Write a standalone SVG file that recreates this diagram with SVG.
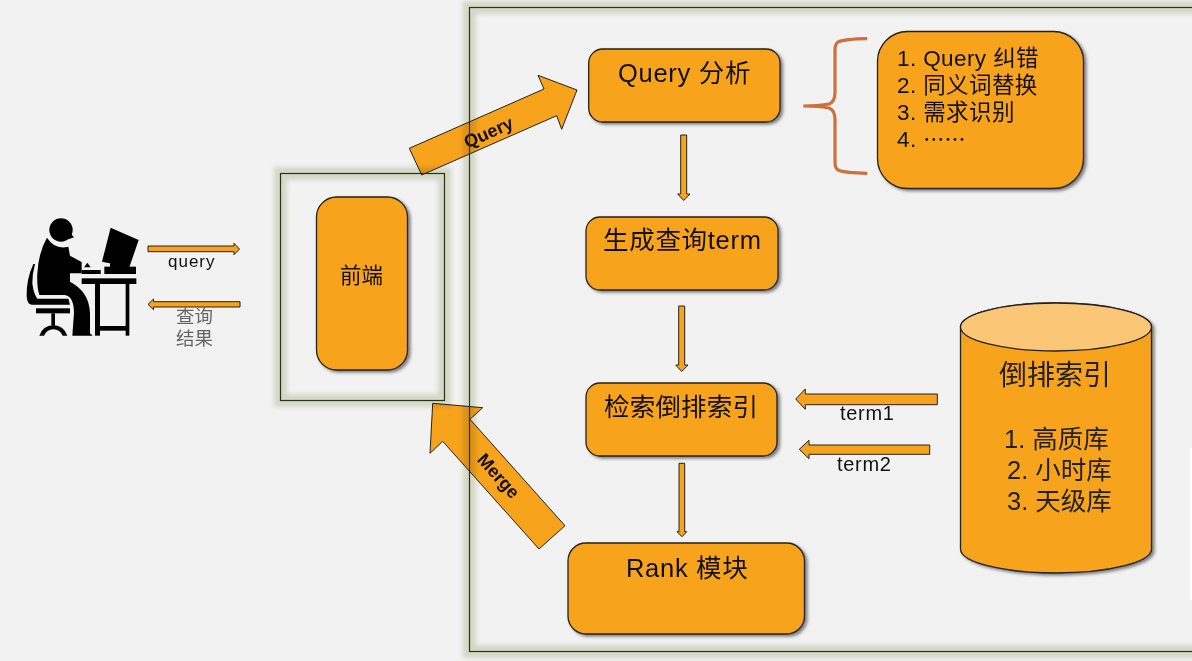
<svg xmlns="http://www.w3.org/2000/svg" width="1192" height="661" viewBox="0 0 1192 661">
<defs>
<filter id="sh" x="-20%" y="-20%" width="140%" height="140%"><feDropShadow dx="2.5" dy="2" stdDeviation="1.8" flood-color="#333" flood-opacity=".6"/></filter>
<filter id="gl" x="-10%" y="-10%" width="120%" height="120%"><feGaussianBlur stdDeviation="2.2"/></filter>
</defs>
<style>
text{font-family:"Liberation Sans","Noto Sans CJK SC",sans-serif;fill:#111}
.n{fill:#f8a31c;stroke:#222;stroke-width:1.3}
.a{fill:#f8a31c;stroke:#222;stroke-width:1}
.glow{fill:none;stroke:#e0e4d0;stroke-width:13;filter:url(#gl);mix-blend-mode:multiply}
.fr{fill:none;stroke:#2b2f24;stroke-width:1.2}
.m{font-size:25.5px;letter-spacing:.7px}
.l{font-size:22.5px;letter-spacing:.4px}
.s{font-size:17px;letter-spacing:1px}
.b{font-size:18px;font-weight:bold}
.t{font-size:20px;letter-spacing:.7px}
</style>
<rect width="1192" height="661" fill="#f2f2f2"/>
<rect x="1190" y="448" width="2" height="152" fill="#fff"/>

<g id="user" transform="translate(0 160) scale(.33333)" fill="#000">
<circle cx="183" cy="210" r="35"/>
<path d="M205 212L222 232L205 238Z"/>
<path d="M141 233Q165 270 205 260L210 287L245 306L245 340L210 340L210 365Q268 395 270 460L270 520L278 527L217 527L222 460Q222 410 195 405L118 405Q110 380 112 340Q116 275 141 233Z"/>
<path d="M100 312Q78 360 80 410Q82 433 95 434L210 434L205 416L112 416Q100 400 97 370Q97 340 105 312Z"/>
<rect x="108" y="445" width="102" height="15"/>
<rect x="154" y="460" width="11" height="36"/>
<path d="M118 527Q128 497 160 495Q192 497 202 527L188 527Q180 509 160 508Q140 509 132 527Z"/>
<rect x="245" y="355" width="164" height="17"/>
<rect x="285" y="372" width="15" height="155"/>
<rect x="377" y="372" width="11" height="155"/>
<rect x="298" y="498" width="82" height="14"/>
<rect x="245" y="330" width="57" height="12"/>
<path d="M252 322L272 322L262 308Z"/>
<path d="M332 203L416 240L388 322L306 305Z"/>
<rect x="330" y="305" width="55" height="18"/>
<rect x="313" y="320" width="95" height="22"/>
</g>

<g id="connectors">
<path class="a" d="M148 246H234V243.3L239.5 249L234 254.7V251.7H148Z"/>
<path class="a" d="M240 301.7H153.5V299L148 304.4L153.5 309.7V307H240Z"/>
<path class="a" d="M409.3 148.3L421.7 175L556.7 115.7L561.7 129.3L577 90L538 75.3L544 89Z"/>
<path class="a" d="M432.7 403.3L482.7 407.7L470 419.3L565 525.7L539 549L442.7 441.3L430 453.3Z"/>
<path class="a" d="M680.7 135H686.7V194H690L683.7 200.5L677.7 194H680.7Z"/>
<path class="a" d="M678.7 306H684.7V365H688L681.7 371.5L675.7 365H678.7Z"/>
<path class="a" d="M679 463.3H684.7V531.7H686.7L682 536.7L677 531.7H679Z"/>
<path class="a" d="M937.3 394V404.7H805.3V409.3L795.7 399L805.3 389V394Z"/>
<path class="a" d="M929.7 445V454.3H809V458.7L799.3 449.3L809 440.3V445Z"/>
<path d="M867.3 38.7Q845 39 838 42Q835 44 835 50V92Q835 102 829 104Q818 106 803.3 106Q818 106 829 108Q835 110 835 120V162Q835 168 838 170Q845 173 867.3 173.3" fill="none" stroke="#cf6f3a" stroke-width="3.2"/>
<text class="b" transform="translate(491 138) rotate(-24)" text-anchor="middle">Query</text>
<text class="b" transform="translate(494 480) rotate(48)" text-anchor="middle">Merge</text>
<text class="s" x="168" y="267">query</text>
<text x="176" y="323" style="font-size:18.5px;fill:#666">查询</text>
<text x="176" y="345" style="font-size:18.5px;fill:#666">结果</text>
<text class="t" x="840" y="420">term1</text>
<text class="t" x="837" y="471">term2</text>
</g>

<g id="frame-outer">
<rect class="glow" x="469.5" y="7.5" width="760" height="644"/>
<rect class="fr" x="469.5" y="7.5" width="760" height="644"/>
</g>
<g id="frame-front">
<rect class="glow" x="280.5" y="173.5" width="164" height="227"/>
<rect class="fr" x="280.5" y="173.5" width="164" height="227"/>
</g>

<g id="node-front">
<rect class="n" filter="url(#sh)" x="316.5" y="197" width="91" height="173" rx="20"/>
<text x="340" y="283" style="font-size:21.5px">前端</text>
</g>
<g id="node-query">
<rect class="n" filter="url(#sh)" x="588.7" y="49" width="191.3" height="73" rx="14"/>
<text class="m" x="618" y="82">Query 分析</text>
</g>
<g id="node-term">
<rect class="n" filter="url(#sh)" x="586" y="217" width="192" height="73" rx="14"/>
<text class="m" x="603" y="249">生成查询term</text>
</g>
<g id="node-search">
<rect class="n" filter="url(#sh)" x="586" y="383" width="191" height="73" rx="14"/>
<text class="m" x="604" y="416" style="letter-spacing:.2px">检索倒排索引</text>
</g>
<g id="node-rank">
<rect class="n" filter="url(#sh)" x="568" y="543" width="236.5" height="91" rx="18"/>
<text class="m" x="626" y="577">Rank 模块</text>
</g>
<g id="node-list">
<rect class="n" filter="url(#sh)" x="877.5" y="31.5" width="206" height="157" rx="30"/>
<text class="l" x="897" y="66">1. Query 纠错</text>
<text class="l" x="897" y="93">2. 同义词替换</text>
<text class="l" x="897" y="120">3. 需求识别</text>
<text class="l" x="897" y="147">4. <tspan style="font-family:'Noto Sans CJK SC',sans-serif;font-size:21px">……</tspan></text>
</g>
<g id="node-index">
<path class="n" filter="url(#sh)" d="M960.5 327V549A95.5 24 0 0 0 1151.5 549V327A95.5 24 0 0 0 960.5 327Z"/>
<ellipse cx="1056" cy="327" rx="95.5" ry="24" fill="#fbc776" stroke="#222" stroke-width="1.3"/>
<text x="999" y="385" style="font-size:28px;fill:#222">倒排索引</text>
<text x="1004" y="448" style="font-size:25.5px;fill:#222">1. 高质库</text>
<text x="1007" y="479" style="font-size:25.5px;fill:#222">2. 小时库</text>
<text x="1007" y="510" style="font-size:25.5px;fill:#222">3. 天级库</text>
</g>
</svg>
